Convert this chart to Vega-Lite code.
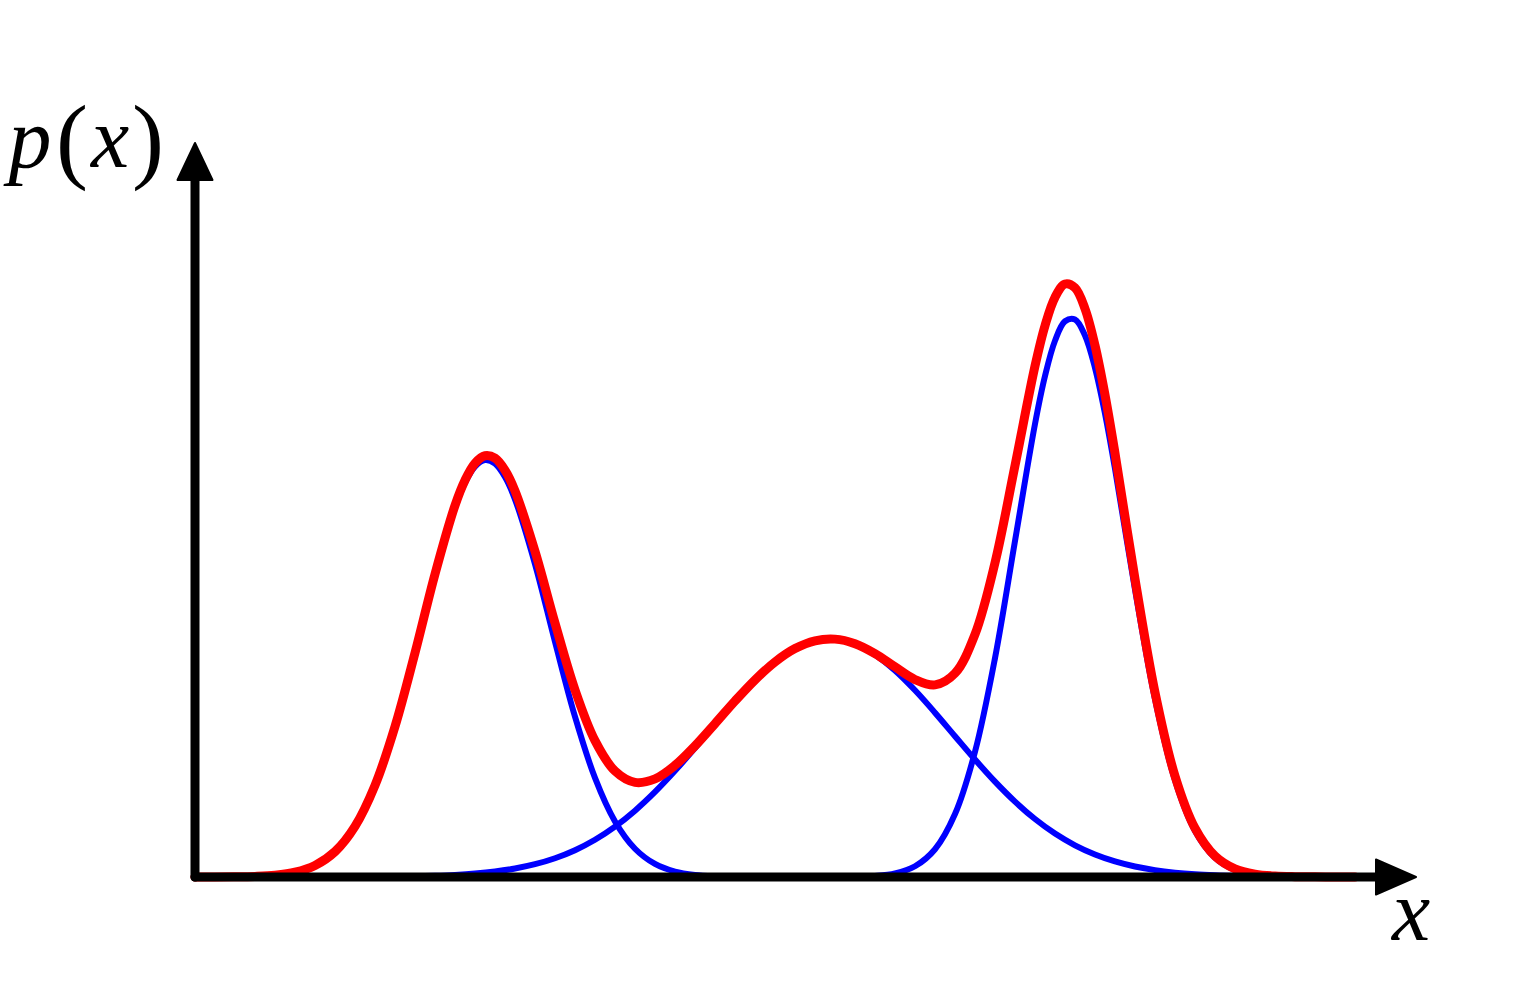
{
  "$schema": "https://vega.github.io/schema/vega-lite/v6.json",
  "width": 1230,
  "height": 750,
  "autosize": {"type": "none"},
  "padding": {"left": 195, "top": 127, "right": 114, "bottom": 123},
  "background": "white",
  "config": {"view": {"stroke": null}},
  "datasets": {
    "components": [
      {"x": 0, "p": 0.0001, "c": "1"}, {"x": 0.2, "p": 0.0005, "c": "1"}, {"x": 0.4, "p": 0.0018, "c": "1"}, {"x": 0.6, "p": 0.006, "c": "1"},
      {"x": 0.8, "p": 0.0177, "c": "1"}, {"x": 1.0, "p": 0.0474, "c": "1"}, {"x": 1.2, "p": 0.1151, "c": "1"}, {"x": 1.4, "p": 0.2531, "c": "1"},
      {"x": 1.6, "p": 0.5051, "c": "1"}, {"x": 1.8, "p": 0.9141, "c": "1"}, {"x": 2.0, "p": 1.5008, "c": "1"}, {"x": 2.2, "p": 2.2343, "c": "1"},
      {"x": 2.4, "p": 3.0166, "c": "1"}, {"x": 2.6, "p": 3.6942, "c": "1"}, {"x": 2.7, "p": 3.9412, "c": "1"}, {"x": 2.8, "p": 4.1032, "c": "1"},
      {"x": 2.9, "p": 4.1689, "c": "1"}, {"x": 3.0, "p": 4.1334, "c": "1"}, {"x": 3.1, "p": 3.9994, "c": "1"}, {"x": 3.2, "p": 3.7765, "c": "1"},
      {"x": 3.4, "p": 3.1293, "c": "1"}, {"x": 3.6, "p": 2.3519, "c": "1"},
      {"x": 3.8, "p": 1.603, "c": "1"}, {"x": 4.0, "p": 0.9908, "c": "1"}, {"x": 4.2, "p": 0.5555, "c": "1"}, {"x": 4.4, "p": 0.2826, "c": "1"},
      {"x": 4.6, "p": 0.1303, "c": "1"}, {"x": 4.8, "p": 0.0545, "c": "1"}, {"x": 5.0, "p": 0.0207, "c": "1"}, {"x": 5.2, "p": 0.0071, "c": "1"},
      {"x": 5.4, "p": 0.0022, "c": "1"}, {"x": 5.6, "p": 0.0006, "c": "1"}, {"x": 5.8, "p": 0.0002, "c": "1"}, {"x": 6.0, "p": 0, "c": "1"},

      {"x": 0.8, "p": 0.0001, "c": "2"}, {"x": 1.0, "p": 0.0002, "c": "2"}, {"x": 1.2, "p": 0.0003, "c": "2"}, {"x": 1.4, "p": 0.0006, "c": "2"},
      {"x": 1.6, "p": 0.0012, "c": "2"}, {"x": 1.8, "p": 0.0023, "c": "2"}, {"x": 2.0, "p": 0.0041, "c": "2"}, {"x": 2.2, "p": 0.0073, "c": "2"},
      {"x": 2.4, "p": 0.0126, "c": "2"}, {"x": 2.6, "p": 0.0211, "c": "2"}, {"x": 2.8, "p": 0.0345, "c": "2"}, {"x": 3.0, "p": 0.0549, "c": "2"},
      {"x": 3.2, "p": 0.0849, "c": "2"}, {"x": 3.4, "p": 0.1279, "c": "2"}, {"x": 3.6, "p": 0.1876, "c": "2"}, {"x": 3.8, "p": 0.2679, "c": "2"},
      {"x": 4.0, "p": 0.3723, "c": "2"}, {"x": 4.2, "p": 0.5037, "c": "2"}, {"x": 4.4, "p": 0.6635, "c": "2"}, {"x": 4.6, "p": 0.8507, "c": "2"},
      {"x": 4.8, "p": 1.0619, "c": "2"}, {"x": 5.0, "p": 1.2903, "c": "2"}, {"x": 5.2, "p": 1.5263, "c": "2"}, {"x": 5.4, "p": 1.7576, "c": "2"},
      {"x": 5.6, "p": 1.9702, "c": "2"}, {"x": 5.8, "p": 2.15, "c": "2"}, {"x": 6.0, "p": 2.2841, "c": "2"}, {"x": 6.2, "p": 2.3621, "c": "2"},
      {"x": 6.4, "p": 2.378, "c": "2"}, {"x": 6.6, "p": 2.3306, "c": "2"}, {"x": 6.8, "p": 2.2235, "c": "2"},
      {"x": 7.0, "p": 2.0651, "c": "2"}, {"x": 7.2, "p": 1.8671, "c": "2"}, {"x": 7.4, "p": 1.6434, "c": "2"}, {"x": 7.6, "p": 1.4081, "c": "2"},
      {"x": 7.8, "p": 1.1745, "c": "2"}, {"x": 8.0, "p": 0.9536, "c": "2"}, {"x": 8.2, "p": 0.7538, "c": "2"}, {"x": 8.4, "p": 0.58, "c": "2"},
      {"x": 8.6, "p": 0.4345, "c": "2"}, {"x": 8.8, "p": 0.3168, "c": "2"}, {"x": 9.0, "p": 0.2249, "c": "2"}, {"x": 9.2, "p": 0.1554, "c": "2"},
      {"x": 9.4, "p": 0.1046, "c": "2"}, {"x": 9.6, "p": 0.0685, "c": "2"}, {"x": 9.8, "p": 0.0437, "c": "2"}, {"x": 10.0, "p": 0.0271, "c": "2"},
      {"x": 10.2, "p": 0.0164, "c": "2"}, {"x": 10.4, "p": 0.0096, "c": "2"}, {"x": 10.6, "p": 0.0055, "c": "2"}, {"x": 10.8, "p": 0.0031, "c": "2"},
      {"x": 11.0, "p": 0.0017, "c": "2"}, {"x": 11.2, "p": 0.0009, "c": "2"}, {"x": 11.4, "p": 0.0005, "c": "2"}, {"x": 11.6, "p": 0.0002, "c": "2"},

      {"x": 6.0, "p": 0, "c": "3"}, {"x": 6.2, "p": 0.0001, "c": "3"}, {"x": 6.4, "p": 0.0007, "c": "3"}, {"x": 6.6, "p": 0.0029, "c": "3"},
      {"x": 6.8, "p": 0.0109, "c": "3"}, {"x": 7.0, "p": 0.0366, "c": "3"}, {"x": 7.2, "p": 0.1076, "c": "3"}, {"x": 7.4, "p": 0.2777, "c": "3"},
      {"x": 7.6, "p": 0.6292, "c": "3"}, {"x": 7.8, "p": 1.2523, "c": "3"}, {"x": 8.0, "p": 2.1889, "c": "3"}, {"x": 8.2, "p": 3.36, "c": "3"},
      {"x": 8.4, "p": 4.5295, "c": "3"}, {"x": 8.5, "p": 5.0091, "c": "3"}, {"x": 8.6, "p": 5.3625, "c": "3"}, {"x": 8.7, "p": 5.5574, "c": "3"},
      {"x": 8.8, "p": 5.5755, "c": "3"}, {"x": 8.9, "p": 5.415, "c": "3"}, {"x": 9.0, "p": 5.091, "c": "3"}, {"x": 9.1, "p": 4.6336, "c": "3"},
      {"x": 9.2, "p": 4.0825, "c": "3"}, {"x": 9.4, "p": 2.8751, "c": "3"}, {"x": 9.6, "p": 1.7782, "c": "3"},
      {"x": 9.8, "p": 0.9659, "c": "3"}, {"x": 10.0, "p": 0.4607, "c": "3"}, {"x": 10.2, "p": 0.193, "c": "3"}, {"x": 10.4, "p": 0.071, "c": "3"},
      {"x": 10.6, "p": 0.0229, "c": "3"}, {"x": 10.8, "p": 0.0065, "c": "3"}, {"x": 11.0, "p": 0.0016, "c": "3"}, {"x": 11.2, "p": 0.0004, "c": "3"},
      {"x": 11.4, "p": 0.0001, "c": "3"}, {"x": 11.6, "p": 0, "c": "3"}
    ],
    "mixture": [
      {"x": 0, "p": 0.0001}, {"x": 0.2, "p": 0.0005}, {"x": 0.4, "p": 0.0018}, {"x": 0.6, "p": 0.0061},
      {"x": 0.8, "p": 0.0178}, {"x": 1.0, "p": 0.0476}, {"x": 1.2, "p": 0.1154}, {"x": 1.4, "p": 0.2537},
      {"x": 1.6, "p": 0.5063}, {"x": 1.8, "p": 0.9164}, {"x": 2.0, "p": 1.5049}, {"x": 2.2, "p": 2.2416},
      {"x": 2.4, "p": 3.0292}, {"x": 2.6, "p": 3.7153}, {"x": 2.7, "p": 3.9683}, {"x": 2.8, "p": 4.1377},
      {"x": 2.9, "p": 4.2126}, {"x": 3.0, "p": 4.1883}, {"x": 3.1, "p": 4.0679}, {"x": 3.2, "p": 3.8614},
      {"x": 3.4, "p": 3.2572}, {"x": 3.6, "p": 2.5395},
      {"x": 3.8, "p": 1.8709}, {"x": 4.0, "p": 1.3631}, {"x": 4.2, "p": 1.0592}, {"x": 4.4, "p": 0.9461},
      {"x": 4.6, "p": 0.981}, {"x": 4.8, "p": 1.1164}, {"x": 5.0, "p": 1.311}, {"x": 5.2, "p": 1.5334},
      {"x": 5.4, "p": 1.7598}, {"x": 5.6, "p": 1.9708}, {"x": 5.8, "p": 2.1502}, {"x": 6.0, "p": 2.2841},
      {"x": 6.2, "p": 2.3622}, {"x": 6.4, "p": 2.3787}, {"x": 6.6, "p": 2.3335},
      {"x": 6.8, "p": 2.2344}, {"x": 7.0, "p": 2.1017}, {"x": 7.2, "p": 1.9747}, {"x": 7.4, "p": 1.9211},
      {"x": 7.6, "p": 2.0373}, {"x": 7.8, "p": 2.4268}, {"x": 8.0, "p": 3.1425}, {"x": 8.2, "p": 4.1138},
      {"x": 8.4, "p": 5.1095}, {"x": 8.5, "p": 5.5128}, {"x": 8.6, "p": 5.797}, {"x": 8.7, "p": 5.9297},
      {"x": 8.8, "p": 5.8923}, {"x": 8.9, "p": 5.6829}, {"x": 9.0, "p": 5.3159}, {"x": 9.1, "p": 4.8212},
      {"x": 9.2, "p": 4.2379}, {"x": 9.4, "p": 2.9797}, {"x": 9.6, "p": 1.8467},
      {"x": 9.8, "p": 1.0096}, {"x": 10.0, "p": 0.4878}, {"x": 10.2, "p": 0.2094}, {"x": 10.4, "p": 0.0806},
      {"x": 10.6, "p": 0.0284}, {"x": 10.8, "p": 0.0096}, {"x": 11.0, "p": 0.0033}, {"x": 11.2, "p": 0.0013},
      {"x": 11.4, "p": 0.0006}, {"x": 11.6, "p": 0.0002}
    ],
    "axes": [
      {"x": 0, "p": 0, "x2": 0, "p2": 7.05},
      {"x": 0, "p": 0, "x2": 11.9, "p2": 0}
    ],
    "arrowUp": [{"x": 0, "p": 7.155}],
    "arrowRight": [{"x": 12.01, "p": 0}],
    "italicLabels": [
      {"x": -1.65, "p": 7.10, "t": "p"},
      {"x": -0.85, "p": 7.10, "t": "x"},
      {"x": 12.16, "p": -0.63, "t": "x"}
    ],
    "uprightLabels": [
      {"x": -1.23, "p": 7.06, "t": "("},
      {"x": -0.47, "p": 7.06, "t": ")"}
    ]
  },
  "layer": [
    {
      "data": {"name": "components"},
      "mark": {"type": "line", "color": "#0000ff", "strokeWidth": 6, "interpolate": "catmull-rom", "strokeCap": "round", "strokeJoin": "round"},
      "encoding": {
        "x": {"field": "x", "type": "quantitative", "scale": {"domain": [0, 12.3], "nice": false, "zero": false}, "axis": null},
        "y": {"field": "p", "type": "quantitative", "scale": {"domain": [0, 7.5], "nice": false, "zero": false}, "axis": null},
        "detail": {"field": "c", "type": "nominal"}
      }
    },
    {
      "data": {"name": "mixture"},
      "mark": {"type": "line", "color": "#ff0000", "strokeWidth": 9, "interpolate": "catmull-rom", "strokeCap": "round", "strokeJoin": "round"},
      "encoding": {
        "x": {"field": "x", "type": "quantitative", "scale": {"domain": [0, 12.3], "nice": false, "zero": false}, "axis": null},
        "y": {"field": "p", "type": "quantitative", "scale": {"domain": [0, 7.5], "nice": false, "zero": false}, "axis": null}
      }
    },
    {
      "data": {"name": "axes"},
      "mark": {"type": "rule", "color": "#000000", "strokeWidth": 9, "strokeCap": "round"},
      "encoding": {
        "x": {"field": "x", "type": "quantitative", "scale": {"domain": [0, 12.3], "nice": false, "zero": false}, "axis": null},
        "y": {"field": "p", "type": "quantitative", "scale": {"domain": [0, 7.5], "nice": false, "zero": false}, "axis": null},
        "x2": {"field": "x2"},
        "y2": {"field": "p2"}
      }
    },
    {
      "data": {"name": "arrowUp"},
      "mark": {"type": "point", "shape": "M0,-1L0.946,1L-0.946,1Z", "size": 1369, "filled": true, "fill": "#000000", "stroke": "#000000", "strokeWidth": 2, "strokeJoin": "round", "opacity": 1},
      "encoding": {
        "x": {"field": "x", "type": "quantitative", "scale": {"domain": [0, 12.3], "nice": false, "zero": false}, "axis": null},
        "y": {"field": "p", "type": "quantitative", "scale": {"domain": [0, 7.5], "nice": false, "zero": false}, "axis": null}
      }
    },
    {
      "data": {"name": "arrowRight"},
      "mark": {"type": "point", "shape": "M-1,-0.875L1,0L-1,0.875Z", "size": 1600, "filled": true, "fill": "#000000", "stroke": "#000000", "strokeWidth": 2, "strokeJoin": "round", "opacity": 1},
      "encoding": {
        "x": {"field": "x", "type": "quantitative", "scale": {"domain": [0, 12.3], "nice": false, "zero": false}, "axis": null},
        "y": {"field": "p", "type": "quantitative", "scale": {"domain": [0, 7.5], "nice": false, "zero": false}, "axis": null}
      }
    },
    {
      "data": {"name": "italicLabels"},
      "mark": {"type": "text", "font": "Liberation Serif", "fontStyle": "italic", "fontSize": 86, "align": "center", "baseline": "alphabetic", "color": "#000000"},
      "encoding": {
        "x": {"field": "x", "type": "quantitative", "scale": {"domain": [0, 12.3], "nice": false, "zero": false}, "axis": null},
        "y": {"field": "p", "type": "quantitative", "scale": {"domain": [0, 7.5], "nice": false, "zero": false}, "axis": null},
        "text": {"field": "t"}
      }
    },
    {
      "data": {"name": "uprightLabels"},
      "mark": {"type": "text", "font": "Liberation Serif", "fontSize": 96, "align": "center", "baseline": "alphabetic", "color": "#000000"},
      "encoding": {
        "x": {"field": "x", "type": "quantitative", "scale": {"domain": [0, 12.3], "nice": false, "zero": false}, "axis": null},
        "y": {"field": "p", "type": "quantitative", "scale": {"domain": [0, 7.5], "nice": false, "zero": false}, "axis": null},
        "text": {"field": "t"}
      }
    }
  ]
}
